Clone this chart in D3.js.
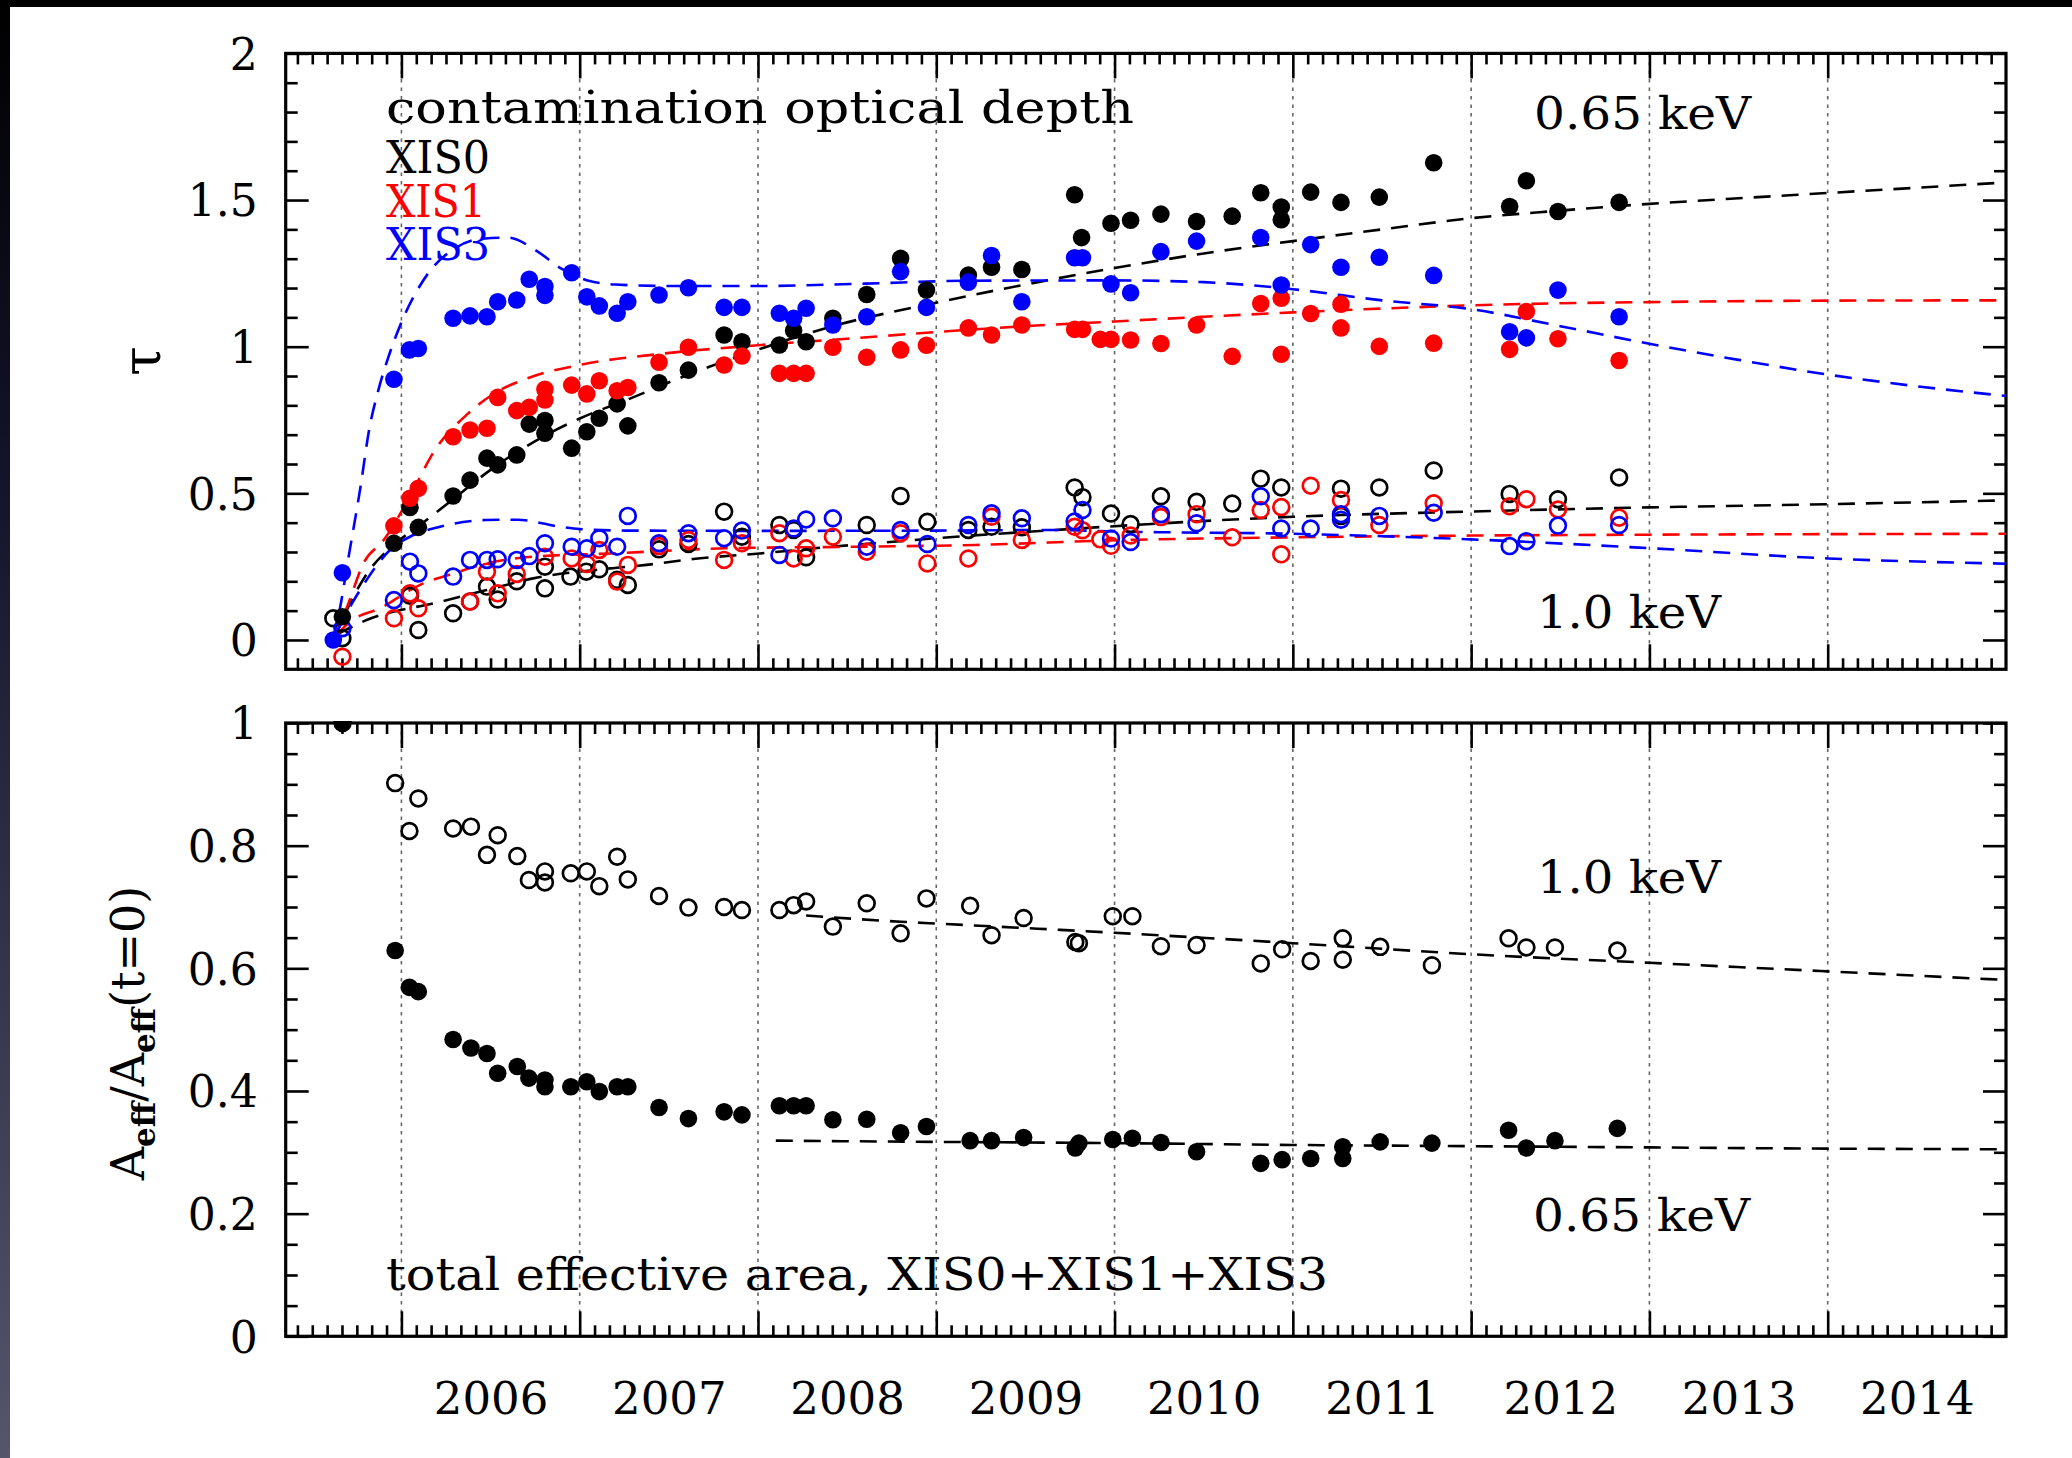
<!DOCTYPE html>
<html><head><meta charset="utf-8">
<script src="https://cdn.jsdelivr.net/npm/d3@7"></script>
<style>html,body{margin:0;padding:0;background:#fff;} svg{display:block;}</style>
</head><body>
<svg id="c" width="2072" height="1458"></svg>
<script>
// ---------------- DATA (decimal year, value) ----------------
// Top panel: contamination optical depth at 0.65 keV (filled) and 1.0 keV (open)
const xis0_065 = [[2005.669,0.079],[2005.958,0.33],[2006.048,0.452],[2006.095,0.384],[2006.29,0.491],[2006.385,0.545],[2006.48,0.62],[2006.54,0.597],[2006.647,0.631],[2006.717,0.736],[2006.805,0.748],[2006.805,0.705],[2006.955,0.654],[2007.04,0.71],[2007.11,0.756],[2007.21,0.805],[2007.27,0.73],[2007.445,0.877],[2007.61,0.92],[2007.81,1.04],[2007.91,1.017],[2008.12,1.006],[2008.2,1.055],[2008.27,1.017],[2008.42,1.097],[2008.61,1.178],[2008.80,1.301],[2008.945,1.193],[2009.18,1.244],[2009.31,1.271],[2009.48,1.263],[2009.776,1.518],[2009.815,1.372],[2009.98,1.421],[2010.09,1.431],[2010.26,1.452],[2010.46,1.427],[2010.66,1.445],[2010.82,1.525],[2010.935,1.476],[2010.935,1.433],[2011.10,1.527],[2011.27,1.492],[2011.485,1.51],[2011.79,1.627],[2012.216,1.478],[2012.31,1.566],[2012.487,1.461],[2012.83,1.492]];
const xis1_065 = [[2005.958,0.389],[2006.048,0.483],[2006.095,0.517],[2006.29,0.693],[2006.385,0.716],[2006.48,0.722],[2006.54,0.827],[2006.647,0.782],[2006.717,0.793],[2006.805,0.855],[2006.805,0.818],[2006.955,0.869],[2007.04,0.839],[2007.11,0.884],[2007.21,0.85],[2007.27,0.861],[2007.445,0.947],[2007.61,0.998],[2007.81,0.9375],[2007.91,0.968],[2008.12,0.909],[2008.2,0.909],[2008.27,0.909],[2008.42,0.998],[2008.61,0.964],[2008.80,0.989],[2008.945,1.005],[2009.18,1.064],[2009.31,1.04],[2009.48,1.074],[2009.776,1.059],[2009.82,1.059],[2009.92,1.025],[2009.98,1.025],[2010.09,1.023],[2010.26,1.011],[2010.46,1.074],[2010.66,0.967],[2010.82,1.147],[2010.935,1.165],[2010.935,0.974],[2011.10,1.113],[2011.27,1.145],[2011.27,1.064],[2011.485,1.001],[2011.79,1.012],[2012.216,0.991],[2012.31,1.12],[2012.487,1.027],[2012.83,0.953]];
const xis3_065 = [[2005.618,0.0],[2005.669,0.229],[2005.958,0.889],[2006.045,0.989],[2006.095,0.994],[2006.29,1.097],[2006.385,1.105],[2006.48,1.102],[2006.54,1.153],[2006.647,1.159],[2006.717,1.23],[2006.805,1.205],[2006.805,1.175],[2006.955,1.252],[2007.04,1.17],[2007.11,1.139],[2007.21,1.114],[2007.27,1.153],[2007.445,1.176],[2007.61,1.201],[2007.81,1.134],[2007.91,1.134],[2008.12,1.114],[2008.2,1.097],[2008.27,1.131],[2008.42,1.074],[2008.61,1.102],[2008.80,1.256],[2008.945,1.134],[2009.18,1.22],[2009.31,1.311],[2009.48,1.153],[2009.776,1.303],[2009.82,1.303],[2009.98,1.214],[2010.09,1.184],[2010.26,1.324],[2010.46,1.36],[2010.82,1.372],[2010.935,1.21],[2011.10,1.348],[2011.27,1.271],[2011.485,1.305],[2011.79,1.243],[2012.216,1.051],[2012.31,1.03],[2012.487,1.193],[2012.83,1.102]];
const xis0_10 = [[2005.618,0.074],[2005.669,0.006],[2006.048,0.151],[2006.095,0.034],[2006.29,0.091],[2006.385,0.131],[2006.48,0.182],[2006.54,0.138],[2006.647,0.2],[2006.805,0.25],[2006.805,0.176],[2006.948,0.216],[2007.037,0.233],[2007.11,0.241],[2007.21,0.205],[2007.27,0.1875],[2007.445,0.309],[2007.61,0.327],[2007.81,0.4375],[2007.91,0.352],[2008.12,0.392],[2008.2,0.375],[2008.27,0.282],[2008.61,0.392],[2008.80,0.491],[2008.95,0.403],[2009.18,0.375],[2009.31,0.386],[2009.48,0.384],[2009.776,0.52],[2009.82,0.487],[2009.98,0.431],[2010.09,0.395],[2010.26,0.49],[2010.46,0.471],[2010.66,0.465],[2010.82,0.55],[2010.935,0.52],[2011.27,0.516],[2011.27,0.423],[2011.485,0.52],[2011.79,0.578],[2012.216,0.498],[2012.487,0.48],[2012.83,0.554]];
const xis1_10 = [[2005.669,-0.057],[2005.958,0.074],[2006.048,0.159],[2006.095,0.108],[2006.385,0.131],[2006.48,0.233],[2006.54,0.159],[2006.647,0.225],[2006.805,0.284],[2006.955,0.278],[2007.04,0.259],[2007.11,0.307],[2007.21,0.199],[2007.27,0.256],[2007.445,0.32],[2007.61,0.341],[2007.81,0.273],[2007.91,0.33],[2008.12,0.364],[2008.2,0.278],[2008.27,0.3125],[2008.42,0.352],[2008.61,0.301],[2008.80,0.364],[2008.95,0.261],[2009.18,0.278],[2009.31,0.42],[2009.48,0.341],[2009.776,0.386],[2009.82,0.374],[2009.92,0.343],[2009.98,0.321],[2010.09,0.356],[2010.26,0.419],[2010.46,0.429],[2010.66,0.35],[2010.82,0.443],[2010.935,0.453],[2010.935,0.292],[2011.10,0.526],[2011.27,0.477],[2011.485,0.392],[2011.79,0.466],[2012.216,0.456],[2012.31,0.48],[2012.487,0.445],[2012.83,0.417]];
const xis3_10 = [[2005.669,0.04],[2005.958,0.136],[2006.048,0.267],[2006.095,0.227],[2006.29,0.216],[2006.385,0.273],[2006.48,0.273],[2006.54,0.275],[2006.647,0.273],[2006.717,0.286],[2006.805,0.33],[2006.955,0.318],[2007.04,0.3125],[2007.11,0.347],[2007.21,0.318],[2007.27,0.423],[2007.445,0.33],[2007.61,0.364],[2007.81,0.347],[2007.91,0.373],[2008.12,0.29],[2008.2,0.38],[2008.27,0.411],[2008.42,0.415],[2008.61,0.318],[2008.80,0.375],[2008.95,0.327],[2009.18,0.392],[2009.31,0.432],[2009.48,0.415],[2009.776,0.404],[2009.82,0.443],[2009.98,0.346],[2010.09,0.334],[2010.26,0.429],[2010.46,0.398],[2010.82,0.49],[2010.935,0.38],[2011.10,0.38],[2011.27,0.429],[2011.27,0.41],[2011.485,0.423],[2011.79,0.434],[2012.216,0.32],[2012.31,0.337],[2012.487,0.39],[2012.83,0.392]];

// Top panel model curves (dashed)
const model0_065 = [[2005.62,0.0],[2005.70,0.11],[2005.80,0.22],[2005.958,0.325],[2006.09,0.385],[2006.29,0.48],[2006.5,0.58],[2006.8,0.695],[2007.0,0.755],[2007.27,0.82],[2007.61,0.905],[2008.0,0.99],[2008.42,1.07],[2009.0,1.15],[2009.5,1.212],[2010.0,1.268],[2010.5,1.318],[2011.0,1.36],[2011.5,1.40],[2012.0,1.438],[2012.5,1.464],[2013.0,1.487],[2013.5,1.506],[2014.0,1.524],[2014.5,1.542],[2015.0,1.56]];
const model1_065 = [[2005.62,0.0],[2005.70,0.12],[2005.786,0.26],[2005.90,0.34],[2006.048,0.489],[2006.18,0.64],[2006.37,0.77],[2006.52,0.84],[2006.72,0.895],[2007.02,0.94],[2007.445,0.975],[2008.0,1.005],[2008.5,1.027],[2009.0,1.05],[2009.5,1.07],[2010.0,1.086],[2010.5,1.102],[2011.0,1.117],[2011.5,1.13],[2012.0,1.141],[2012.5,1.148],[2013.0,1.152],[2014.0,1.157],[2015.0,1.158]];
const model3_065 = [[2005.615,0.0],[2005.656,0.11],[2005.70,0.27],[2005.77,0.52],[2005.82,0.72],[2005.87,0.85],[2005.93,0.97],[2005.99,1.068],[2006.15,1.25],[2006.3,1.335],[2006.45,1.368],[2006.6,1.372],[2006.75,1.33],[2006.9,1.265],[2007.05,1.225],[2007.2,1.212],[2007.5,1.207],[2008.0,1.207],[2008.6,1.215],[2009.2,1.225],[2010.0,1.226],[2010.5,1.22],[2011.0,1.196],[2011.5,1.158],[2012.0,1.128],[2012.5,1.07],[2013.0,1.01],[2013.5,0.955],[2014.0,0.905],[2014.5,0.865],[2015.0,0.832]];
const model0_10 = [[2005.64,0.02],[2005.805,0.068],[2006.216,0.13],[2006.478,0.17],[2006.74,0.21],[2007.17,0.244],[2007.374,0.256],[2007.636,0.276],[2008.01,0.295],[2008.38,0.316],[2008.757,0.335],[2009.0,0.347],[2009.67,0.375],[2010.0,0.388],[2011.0,0.42],[2012.0,0.438],[2013.0,0.452],[2014.0,0.463],[2015.0,0.476]];
const model1_10 = [[2005.64,0.02],[2005.712,0.062],[2005.9,0.114],[2006.048,0.17],[2006.123,0.193],[2006.27,0.222],[2006.478,0.261],[2006.74,0.284],[2007.17,0.295],[2007.82,0.3125],[2008.57,0.318],[2009.22,0.324],[2010.0,0.34],[2011.0,0.35],[2012.0,0.356],[2013.0,0.359],[2015.0,0.362]];
const model3_10 = [[2005.64,0.03],[2005.70,0.10],[2005.805,0.205],[2005.936,0.307],[2006.048,0.352],[2006.216,0.386],[2006.478,0.409],[2006.65,0.41],[2006.89,0.386],[2007.0,0.378],[2007.26,0.373],[2008.0,0.372],[2009.0,0.373],[2009.67,0.375],[2010.0,0.37],[2011.0,0.362],[2012.0,0.343],[2013.0,0.313],[2014.0,0.278],[2015.0,0.26]];

// Bottom panel: total effective area ratio XIS0+XIS1+XIS3
const total_10 = [[2005.67,1.0],[2005.965,0.902],[2006.045,0.824],[2006.095,0.877],[2006.29,0.828],[2006.39,0.831],[2006.48,0.785],[2006.54,0.817],[2006.65,0.783],[2006.715,0.744],[2006.805,0.758],[2006.805,0.74],[2006.95,0.755],[2007.04,0.758],[2007.11,0.734],[2007.21,0.782],[2007.27,0.745],[2007.445,0.718],[2007.61,0.699],[2007.81,0.7],[2007.91,0.695],[2008.12,0.695],[2008.2,0.703],[2008.27,0.709],[2008.42,0.668],[2008.61,0.706],[2008.80,0.657],[2008.945,0.714],[2009.19,0.702],[2009.31,0.654],[2009.49,0.682],[2009.78,0.643],[2009.80,0.641],[2009.99,0.685],[2010.10,0.685],[2010.26,0.636],[2010.46,0.638],[2010.82,0.608],[2010.94,0.631],[2011.10,0.612],[2011.28,0.649],[2011.28,0.614],[2011.49,0.635],[2011.78,0.605],[2012.21,0.649],[2012.31,0.634],[2012.47,0.634],[2012.82,0.629]];
const total_065 = [[2005.67,1.0],[2005.965,0.629],[2006.045,0.569],[2006.095,0.562],[2006.29,0.484],[2006.39,0.47],[2006.48,0.461],[2006.54,0.429],[2006.65,0.44],[2006.715,0.421],[2006.805,0.418],[2006.805,0.407],[2006.95,0.407],[2007.04,0.415],[2007.11,0.399],[2007.21,0.407],[2007.27,0.407],[2007.445,0.373],[2007.61,0.355],[2007.81,0.366],[2007.91,0.361],[2008.12,0.376],[2008.2,0.376],[2008.27,0.376],[2008.42,0.353],[2008.61,0.354],[2008.80,0.332],[2008.945,0.342],[2009.19,0.319],[2009.31,0.319],[2009.49,0.324],[2009.78,0.307],[2009.80,0.315],[2009.99,0.321],[2010.10,0.323],[2010.26,0.316],[2010.46,0.301],[2010.82,0.282],[2010.94,0.288],[2011.10,0.29],[2011.28,0.309],[2011.28,0.29],[2011.49,0.317],[2011.78,0.315],[2012.21,0.336],[2012.31,0.307],[2012.47,0.319],[2012.82,0.339]];
const modelTot_10 = [[2008.27,0.686],[2008.8,0.676],[2009.0,0.673],[2010.0,0.658],[2011.0,0.641],[2012.0,0.623],[2013.0,0.609],[2014.0,0.595],[2015.0,0.581]];
const modelTot_065 = [[2008.1,0.319],[2009.0,0.317],[2010.0,0.315],[2011.0,0.312],[2012.0,0.31],[2013.0,0.308],[2014.0,0.306],[2015.0,0.305]];

// Axis ticks / labels
const yearTicks = [2006,2007,2008,2009,2010,2011,2012,2013,2014];
const yearLabels = [2006,2007,2008,2009,2010,2011,2012,2013,2014];
const tauMajor = [0,0.5,1,1.5,2];
const tauLabels = ["0","0.5","1","1.5","2"];
const areaMajor = [0,0.2,0.4,0.6,0.8,1];
const areaLabels = ["0","0.2","0.4","0.6","0.8","1"];

// ---------------- DRAWING ----------------
const W = 2072, H = 1458;
const FONT = "DejaVu Serif, Liberation Serif, serif";
const svg = d3.select('#c');

// dark border strips of the original screenshot
const defs = svg.append('defs');
const grad = defs.append('linearGradient').attr('id','lg').attr('x1',0).attr('y1',0).attr('x2',0).attr('y2',1);
grad.append('stop').attr('offset','0').attr('stop-color','#000000');
grad.append('stop').attr('offset','0.35').attr('stop-color','#15152e');
grad.append('stop').attr('offset','1').attr('stop-color','#55556c');
svg.append('rect').attr('x',0).attr('y',0).attr('width',W).attr('height',H).attr('fill','#fff');
svg.append('rect').attr('x',0).attr('y',0).attr('width',10).attr('height',H).attr('fill','url(#lg)');
svg.append('rect').attr('x',0).attr('y',0).attr('width',W).attr('height',7).attr('fill','#000');

const X0 = 285.7, X1 = 2006;
const x = d3.scaleLinear().domain([2005.351, 2015.0]).range([X0, X1]);
const yTop = d3.scaleLinear().domain([-0.1, 2]).range([669.3, 53.4]);
const yBot = d3.scaleLinear().domain([0, 1]).range([1336.3, 723]);

// clip for bottom-panel markers (the t=0 point sits on the top frame)
defs.append('clipPath').attr('id','clipBot').append('rect')
  .attr('x', X0).attr('y', yBot.range()[1] - 2).attr('width', X1 - X0).attr('height', yBot.range()[0] - yBot.range()[1] + 4);

const monthTicks = d3.range(Math.ceil(2005.351*12), Math.floor(2015*12)+1).map(m => m/12).filter(v => Math.abs(v - Math.round(v)) > 1e-6);

function panel(y, majors, minors, labels) {
  const [yb, yt] = y.range();
  const g = svg.append('g');
  g.selectAll('line.yr').data(yearTicks).join('line')
    .attr('x1', d => x(d)).attr('x2', d => x(d)).attr('y1', yt).attr('y2', yb)
    .attr('stroke', '#666').attr('stroke-width', 1.6).attr('stroke-dasharray', '3.5,5');

  const style = sel => { sel.select('.domain').remove(); sel.selectAll('line').attr('stroke','#000').attr('stroke-width',2.6); };
  g.append('g').attr('transform', `translate(0,${yb})`).call(d3.axisBottom(x).tickValues(yearTicks).tickSize(-25).tickFormat('')).call(style);
  g.append('g').attr('transform', `translate(0,${yb})`).call(d3.axisBottom(x).tickValues(monthTicks).tickSize(-11).tickFormat('')).call(style);
  g.append('g').attr('transform', `translate(0,${yt})`).call(d3.axisTop(x).tickValues(yearTicks).tickSize(-25).tickFormat('')).call(style);
  g.append('g').attr('transform', `translate(0,${yt})`).call(d3.axisTop(x).tickValues(monthTicks).tickSize(-11).tickFormat('')).call(style);
  const la = g.append('g').attr('transform', `translate(${X0},0)`)
    .call(d3.axisLeft(y).tickValues(majors).tickSize(-23).tickPadding(28).tickFormat((d,i) => labels[i])).call(style);
  la.selectAll('text').attr('font-family', FONT).attr('font-size', 44).attr('fill', '#000').attr('dy', '0.36em');
  g.append('g').attr('transform', `translate(${X0},0)`).call(d3.axisLeft(y).tickValues(minors).tickSize(-12).tickFormat('')).call(style);
  g.append('g').attr('transform', `translate(${X1},0)`).call(d3.axisRight(y).tickValues(majors).tickSize(-23).tickFormat('')).call(style);
  g.append('g').attr('transform', `translate(${X1},0)`).call(d3.axisRight(y).tickValues(minors).tickSize(-12).tickFormat('')).call(style);
  g.append('rect').attr('x', X0).attr('y', yt).attr('width', X1 - X0).attr('height', yb - yt)
    .attr('fill', 'none').attr('stroke', '#000').attr('stroke-width', 3.2);
  return g;
}

const tauMinor = d3.range(1, 20).map(i => i/10).filter(v => Math.abs(v*2 - Math.round(v*2)) > 1e-6);
const areaMinor = d3.range(1, 20).map(i => i/20).filter(v => Math.abs(v*5 - Math.round(v*5)) > 1e-6);
panel(yTop, tauMajor, tauMinor, tauLabels);
panel(yBot, areaMajor, areaMinor, areaLabels);

const xl = svg.append('g').attr('transform', `translate(0,${yBot.range()[0]})`)
  .call(d3.axisBottom(x).tickValues(yearLabels.map(d => d + 0.5)).tickSize(0).tickFormat(d => String(Math.floor(d))));
xl.select('.domain').remove();
xl.selectAll('text').attr('font-family', FONT).attr('font-size', 45).attr('fill', '#000').attr('y', 78).attr('dy', 0);

const lineGen = y => d3.line().x(d => x(d[0])).y(d => y(d[1])).curve(d3.curveMonotoneX);
function dashed(data, y, color) {
  svg.append('path').datum(data).attr('d', lineGen(y)).attr('fill', 'none')
    .attr('stroke', color).attr('stroke-width', 2.6).attr('stroke-dasharray', '17,11');
}
function pts(data, y, color, filled, clip) {
  const g = svg.append('g');
  if (clip) g.attr('clip-path', `url(#${clip})`);
  g.selectAll('circle').data(data).join('circle')
    .attr('cx', d => x(d[0])).attr('cy', d => y(d[1]))
    .attr('r', filled ? 8.8 : 7.9)
    .attr('fill', filled ? color : 'none')
    .attr('stroke', filled ? 'none' : color)
    .attr('stroke-width', filled ? 0 : 2.7);
}
const BLK = '#000', RED = '#ff0000', BLU = '#0000ff';
dashed(model0_065, yTop, BLK); dashed(model1_065, yTop, RED); dashed(model3_065, yTop, BLU);
dashed(model0_10, yTop, BLK); dashed(model1_10, yTop, RED); dashed(model3_10, yTop, BLU);
pts(xis0_10, yTop, BLK, false); pts(xis1_10, yTop, RED, false); pts(xis3_10, yTop, BLU, false);
pts(xis0_065, yTop, BLK, true); pts(xis1_065, yTop, RED, true); pts(xis3_065, yTop, BLU, true);

dashed(modelTot_10, yBot, BLK); dashed(modelTot_065, yBot, BLK);
pts(total_10, yBot, BLK, false, 'clipBot'); pts(total_065, yBot, BLK, true, 'clipBot');

function txt(s, xx, yy, size, color, len) {
  const t = svg.append('text').attr('x', xx).attr('y', yy).attr('font-family', FONT)
    .attr('font-size', size).attr('fill', color).text(s);
  if (len) t.attr('textLength', len).attr('lengthAdjust', 'spacingAndGlyphs');
  return t;
}
txt('contamination optical depth', 386, 123, 44, BLK, 748);
txt('XIS0', 386, 173, 44, BLK, 104);
txt('XIS1', 386, 217, 44, RED, 100);
txt('XIS3', 386, 260, 44, BLU, 104);
txt('0.65 keV', 1534, 129, 44, BLK, 217);
txt('1.0 keV', 1537, 628, 44, BLK, 184);
txt('1.0 keV', 1537, 893, 44, BLK, 184);
txt('0.65 keV', 1533, 1231, 44, BLK, 217);
txt('total effective area, XIS0+XIS1+XIS3', 386, 1290, 44, BLK, 942);

svg.append('text').attr('transform', 'translate(160,361) rotate(-90)').attr('text-anchor', 'middle')
  .attr('font-family', FONT).attr('font-size', 54).attr('fill', BLK).text('τ');
const at = svg.append('text').attr('transform', 'translate(144,1033) rotate(-90)').attr('text-anchor', 'middle')
  .attr('font-family', FONT).attr('font-size', 46).attr('fill', BLK);
at.append('tspan').text('A');
at.append('tspan').attr('font-size', 31).attr('dy', 11).attr('font-weight', 'bold').text('eff');
at.append('tspan').attr('dy', -11).text('/A');
at.append('tspan').attr('font-size', 31).attr('dy', 11).attr('font-weight', 'bold').text('eff');
at.append('tspan').attr('dy', -11).text('(t=0)');
</script>
</body></html>
